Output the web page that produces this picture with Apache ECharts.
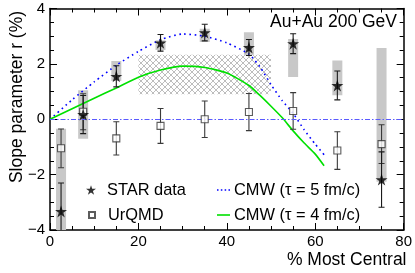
<!DOCTYPE html>
<html>
<head>
<meta charset="utf-8">
<script src="https://cdn.jsdelivr.net/npm/echarts@6/dist/echarts.min.js"></script>
<style>
html,body{margin:0;padding:0;background:#fff;}
#chart{width:415px;height:273px;}
</style>
</head>
<body>
<div id="chart"></div>
<script>
// ---- data ----
const cent = [2.5, 7.5, 15, 25, 35, 45, 55, 65, 75];
const starVal = [-3.33, 0.17, 1.55, 2.76, 3.13, 2.59, 2.73, 1.22, -2.18];
const starStat = [1.03, 0.69, 0.38, 0.3, 0.3, 0.29, 0.36, 0.52, 1.0];
const sysLow = [-6.3, -0.7, 1.38, 2.5, 2.79, 2.27, 1.53, 0.87, -2.26];
const sysHigh = [-0.34, 1.05, 2.1, 2.85, 3.27, 3.14, 2.9, 2.12, 2.57];
const urqVal = [-1.05, 0.27, -0.69, -0.24, 0.0, 0.26, 0.3, -1.13, -0.9];
const urqErr = [0.7, 0.65, 0.6, 0.63, 0.66, 0.67, 0.66, 0.68, 0.7];
const cmwX = [0, 5, 10, 15, 20, 25, 30, 35, 40, 45, 47.5, 50, 52.5, 55, 57.5, 60, 62];
const cmw5 = [0, 0.7, 1.35, 1.95, 2.45, 2.87, 3.08, 3.0, 2.76, 2.35, 1.89, 1.25, 0.68, 0.21, -0.38, -0.9, -1.28];
const cmw4 = [0, 0.38, 0.76, 1.13, 1.52, 1.78, 1.92, 1.87, 1.67, 1.22, 0.86, 0.47, 0.06, -0.42, -0.86, -1.26, -1.68];
const hatchX = [20, 50];
const hatchY = [0.9, 2.33];
const xTicks = [0, 20, 40, 60, 80];
const yTicks = [-4, -2, 0, 2, 4];

const FONT = '"Liberation Sans", Arial, Helvetica, sans-serif';
const STAR = 'path://M50,0 L61.2,34.5 L97.6,34.5 L68.2,55.9 L79.4,90.5 L50,69.1 L20.6,90.5 L31.8,55.9 L2.4,34.5 L38.8,34.5 Z';
const DOTS_ICON = 'path://M0,0h2v2h-2z M5,0h2v2h-2z M10,0h2v2h-2z M15,0h2v2h-2z';

// crosshatch pattern
const pc = document.createElement('canvas');
pc.width = 6; pc.height = 6;
const g = pc.getContext('2d');
g.fillStyle = '#ffffff'; g.fillRect(0, 0, 6, 6);
g.strokeStyle = '#bdbdbd'; g.lineWidth = 1;
g.beginPath();
g.moveTo(0, 0); g.lineTo(6, 6);
g.moveTo(6, 0); g.lineTo(0, 6);
g.stroke();

const chart = echarts.init(document.getElementById('chart'), null, {renderer: 'canvas'});

function errBar(color) {
  return function (params, api) {
    const x = api.value(0), v = api.value(1), e = api.value(2);
    const t = api.coord([x, v + e]);
    const b = api.coord([x, v - e]);
    const st = {stroke: color, lineWidth: 1.1};
    return {type: 'group', children: [
      {type: 'line', shape: {x1: t[0], y1: t[1], x2: b[0], y2: b[1]}, style: st},
      {type: 'line', shape: {x1: t[0] - 3, y1: t[1], x2: t[0] + 3, y2: t[1]}, style: st},
      {type: 'line', shape: {x1: b[0] - 3, y1: b[1], x2: b[0] + 3, y2: b[1]}, style: st}
    ]};
  };
}

const axisCommon = {
  type: 'value',
  axisLine: {show: true, onZero: false, lineStyle: {color: '#000', width: 1.5}},
  axisTick: {show: true, inside: true, length: 7, lineStyle: {color: '#000', width: 1}},
  minorTick: {show: true, splitNumber: 4, length: 4, lineStyle: {color: '#000', width: 1}},
  splitLine: {show: false},
  minorSplitLine: {show: false}
};

const legendText = {fontSize: 16.4, color: '#000', fontFamily: FONT};

const option = {
  animation: false,
  grid: {left: 50, right: 8.5, top: 8.5, bottom: 43},
  xAxis: [
    Object.assign({}, axisCommon, {
      position: 'bottom', min: xTicks[0], max: xTicks[xTicks.length - 1], interval: 20,
      axisLabel: {show: true, fontSize: 15, color: '#000', fontFamily: FONT, margin: 4}
    }),
    Object.assign({}, axisCommon, {
      position: 'top', min: xTicks[0], max: xTicks[xTicks.length - 1], interval: 20,
      axisLabel: {show: false}
    })
  ],
  yAxis: [
    Object.assign({}, axisCommon, {
      position: 'left', min: yTicks[0], max: yTicks[yTicks.length - 1], interval: 2,
      axisLabel: {show: true, fontSize: 15, color: '#000', fontFamily: FONT, margin: 5,
        formatter: v => String(v).replace('-', '\u2212')}
    }),
    Object.assign({}, axisCommon, {
      position: 'right', min: yTicks[0], max: yTicks[yTicks.length - 1], interval: 2,
      axisLabel: {show: false}
    })
  ],
  legend: [
    {data: ['STAR data'], left: 86, top: 182, padding: 0, itemWidth: 10, itemHeight: 10,
      textStyle: Object.assign({padding: [0, 0, 0, 6]}, legendText)},
    {data: ['UrQMD'], left: 88, top: 207, padding: 0, itemWidth: 6, itemHeight: 6,
      textStyle: Object.assign({padding: [0, 0, 0, 8]}, legendText)},
    {data: [{name: 'CMW (\u03c4 = 5 fm/c)', icon: DOTS_ICON}], left: 217, top: 182, padding: 0,
      itemWidth: 13, itemHeight: 1.6, textStyle: Object.assign({padding: [0, 0, 0, -1]}, legendText)},
    {data: [{name: 'CMW (\u03c4 = 4 fm/c)', icon: 'rect'}], left: 217, top: 207, padding: 0,
      itemWidth: 13, itemHeight: 1.6, textStyle: Object.assign({padding: [0, 0, 0, -1]}, legendText)}
  ],
  graphic: [
    {type: 'text', x: 17.5, y: 97, rotation: Math.PI / 2,
      style: {text: 'Slope parameter r (%)', fontSize: 17.5, fontFamily: FONT, fill: '#000',
        align: 'center', verticalAlign: 'middle'}},
    {type: 'text', x: 406.5, y: 260,
      style: {text: '% Most Central', fontSize: 17.5, fontFamily: FONT, fill: '#000',
        align: 'right', verticalAlign: 'middle'}},
    {type: 'text', x: 397, y: 22,
      style: {text: 'Au+Au 200 GeV', fontSize: 17.5, fontFamily: FONT, fill: '#000',
        align: 'right', verticalAlign: 'middle'}}
  ],
  series: [
    {
      type: 'custom', name: 'sys', clip: true, z: 1, silent: true,
      data: cent.map((c, i) => [c, sysLow[i], sysHigh[i]]),
      renderItem: function (params, api) {
        const x = api.value(0);
        const t = api.coord([x, api.value(2)]);
        const b = api.coord([x, api.value(1)]);
        return {type: 'rect', shape: {x: t[0] - 5, y: t[1], width: 10, height: b[1] - t[1]},
          style: {fill: '#c8c8c8'}};
      }
    },
    {
      type: 'custom', name: 'hatch', clip: true, z: 1, silent: true,
      data: [[hatchX[0], hatchX[1], hatchY[0], hatchY[1]]],
      renderItem: function (params, api) {
        const a = api.coord([api.value(0), api.value(3)]);
        const b = api.coord([api.value(1), api.value(2)]);
        return {type: 'rect', shape: {x: a[0], y: a[1], width: b[0] - a[0], height: b[1] - a[1]},
          style: {fill: {image: pc, repeat: 'repeat'}}};
      }
    },
    {
      type: 'line', name: 'zero', data: [], silent: true, z: 2,
      markLine: {silent: true, symbol: 'none', label: {show: false},
        lineStyle: {color: '#5a5aff', width: 1.2, type: [5, 2, 1.5, 2]},
        data: [{yAxis: 0}]}
    },
    {
      type: 'line', name: 'CMW (\u03c4 = 5 fm/c)', z: 3, smooth: 0.2,
      showSymbol: false, symbol: 'none', color: '#0000ff',
      lineStyle: {color: '#0000ff', width: 1.6, type: [1.6, 3.6]},
      data: cmwX.map((x, i) => [x, cmw5[i]])
    },
    {
      type: 'line', name: 'CMW (\u03c4 = 4 fm/c)', z: 3, smooth: 0.2,
      showSymbol: false, symbol: 'none', color: '#00e000',
      lineStyle: {color: '#00e000', width: 1.6},
      data: cmwX.map((x, i) => [x, cmw4[i]])
    },
    {
      type: 'custom', name: 'urqErr', clip: true, z: 4, silent: true,
      data: cent.map((c, i) => [c, urqVal[i], urqErr[i]]),
      renderItem: errBar('#3a3a3a')
    },
    {
      type: 'custom', name: 'starErr', clip: true, z: 4, silent: true,
      data: cent.map((c, i) => [c, starVal[i], starStat[i]]),
      renderItem: errBar('#1a1a1a')
    },
    {
      type: 'scatter', name: 'UrQMD', z: 5, symbol: 'rect', symbolSize: 7,
      itemStyle: {color: '#ffffff', borderColor: '#333', borderWidth: 1.1},
      data: cent.map((c, i) => [c, urqVal[i]])
    },
    {
      type: 'scatter', name: 'STAR data', z: 6, symbol: STAR, symbolSize: 12,
      itemStyle: {color: '#000'},
      data: cent.map((c, i) => [c, starVal[i]])
    }
  ]
};
chart.setOption(option);
</script>
</body>
</html>
